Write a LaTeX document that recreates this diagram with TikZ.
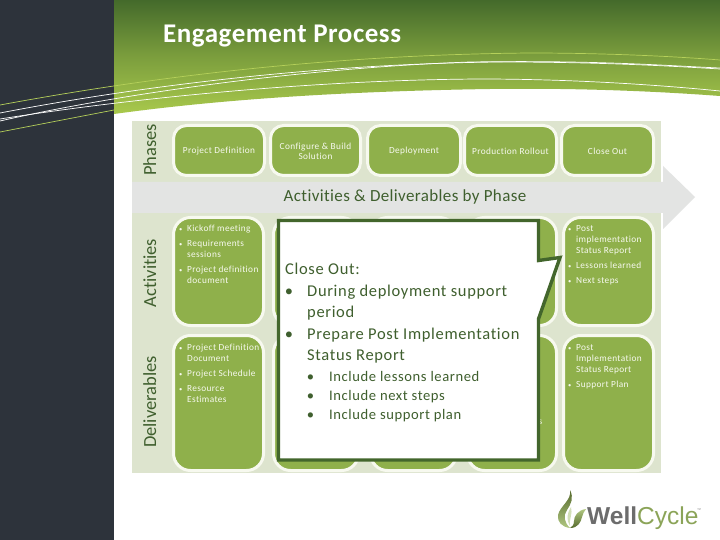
\documentclass[tikz,border=0pt]{standalone}
\usepackage{fontspec}
\setmainfont[Ligatures=NoCommon]{Carlito}
\newfontfamily\logofont{Liberation Sans}
\newcommand{\lsp}[1]{\addfontfeatures{LetterSpace=#1}}
\newcommand{\sbul}{\llap{{\fontsize{6.5}{6.5}\selectfont •}\ \ }}
\usetikzlibrary{calc}
\definecolor{darkpanel}{HTML}{2D333B}
\definecolor{headtop}{HTML}{446A2B}
\definecolor{headbot}{HTML}{A9C94C}
\definecolor{panelbg}{HTML}{DDE4CE}
\definecolor{bandgrey}{HTML}{E3E4E3}
\definecolor{boxgreen}{HTML}{8FB04B}
\definecolor{boxedge}{HTML}{F7F9EF}
\definecolor{txtgreen}{HTML}{3F5F2E}
\definecolor{calledge}{HTML}{43662C}
\definecolor{lineyl}{HTML}{B5D05A}
\tikzset{
  x=1pt,y=-1pt,
  gbox/.style={draw=boxedge,line width=3pt,fill=boxgreen,inner sep=0pt,rounded corners=13pt},
  phasetxt/.style={text=boxedge,font=\fontsize{9.3}{10.6}\selectfont\lsp{4},align=center,inner sep=0pt},
  smalltxt/.style={text=boxedge,font=\fontsize{9.3}{11}\selectfont\lsp{4},align=left,inner sep=0pt,anchor=base west},
  sidetxt/.style={text=txtgreen,font=\fontsize{18.5}{20}\selectfont,rotate=90,inner sep=0pt,anchor=base},
  calltxt/.style={text=txtgreen,font=\fontsize{16.5}{21.6}\selectfont\lsp{4},align=left,inner sep=0pt,anchor=base west},
  subtxt/.style={text=txtgreen,font=\fontsize{14.6}{19}\selectfont\lsp{4},align=left,inner sep=0pt,anchor=base west},
  deco/.style={line width=0.7pt},
}
\newcommand{\gboxat}[6]{\node[gbox,minimum width=#3-#2-3,minimum height=#5-#4-3,#6] (#1) at ({(#2+#3)/2},{(#4+#5)/2}) {};}
\begin{document}
\begin{tikzpicture}
\useasboundingbox (0,0) rectangle (720,540);
\fill[white] (0,0) rectangle (720,540);
% header
\shade[top color=headtop,bottom color=headbot,middle color=headtop!45!headbot] (114,0) -- (720,0) -- (720,96)
  .. controls (640,90) and (560,88) .. (490,89)
  .. controls (360,91) and (230,98) .. (114,114) -- cycle;
\fill[darkpanel] (0,0) rectangle (114,540);
% swoosh lines
\draw[deco,lineyl] (0,105) .. controls (114,84) and (300,55) .. (530,53) .. controls (600,53) and (670,56) .. (720,60);
\draw[deco,white] (0,113) .. controls (114,91) and (300,64) .. (500,62) .. controls (600,62) and (670,66) .. (720,69);
\draw[deco,white] (0,121) .. controls (114,95) and (300,68) .. (470,62) .. controls (600,60) and (670,66) .. (720,68);
\draw[deco,white] (0,119) .. controls (114,101) and (300,80) .. (480,79) .. controls (580,79) and (670,86) .. (720,91);
\draw[deco,lineyl] (0,132) -- (114,110);
% panel and band
\fill[panelbg] (132,121) rectangle (661,473);
\fill[bandgrey] (132,182) -- (663,182) -- (663,166) -- (695,197) -- (663,229) -- (663,213) -- (132,213) -- cycle;
% title
\node[text=white,font=\fontsize{27}{28}\selectfont\bfseries\lsp{2},anchor=base west,inner sep=0pt] (title) at (163,43) {Engagement Process};
% side labels
\node[sidetxt] (sphases) at (156,150) {Phases};
\node[sidetxt] (sact) at (156,273) {Activities};
\node[sidetxt] (sdel) at (156,402) {Deliverables};
\node[text=txtgreen,font=\fontsize{17}{19}\selectfont\lsp{2.2},inner sep=0pt] (bandlabel) at (405,197) {Activities \& Deliverables by Phase};
% phase boxes
\gboxat{p1}{172}{266}{124}{177}{}
\gboxat{p2}{269}{362}{124}{177}{}
\gboxat{p3}{366}{462}{124}{177}{}
\gboxat{p4}{463}{558}{124}{177}{}
\gboxat{p5}{560}{655}{124}{177}{}
\node[phasetxt,yshift=-1pt] (tp1) at (p1) {Project Definition};
\node[phasetxt,yshift=-1pt] (tp2) at (p2) {Configure \& Build\\Solution};
\node[phasetxt,yshift=-1pt] (tp3) at (p3) {Deployment};
\node[phasetxt,yshift=-1pt] (tp4) at (p4) {Production Rollout};
\node[phasetxt,yshift=-1pt] (tp5) at (p5) {Close Out};
% activity boxes
\gboxat{a1}{172}{265}{216}{327}{rounded corners=17pt}
\gboxat{a2}{272}{360}{216}{327}{rounded corners=17pt}
\gboxat{a3}{369}{458}{216}{327}{rounded corners=17pt}
\gboxat{a4}{466}{558}{216}{327}{rounded corners=17pt}
\gboxat{a5}{562}{655}{216}{327}{rounded corners=17pt}
% deliverable boxes
\gboxat{d1}{172}{265}{334}{472}{rounded corners=17pt}
\gboxat{d2}{272}{360}{334}{472}{rounded corners=17pt}
\gboxat{d3}{369}{458}{334}{472}{rounded corners=17pt}
\gboxat{d4}{466}{558}{334}{472}{rounded corners=17pt}
\gboxat{d5}{562}{655}{334}{472}{rounded corners=17pt}
% box texts (the anchor is the baseline of the last line)
\node[smalltxt] (a1a) at (187,232) {\sbul Kickoff meeting};
\node[smalltxt] (a1b) at (187,258) {\sbul Requirements\\sessions};
\node[smalltxt] (a1c) at (187,283) {\sbul Project definition\\document};
\node[smalltxt] (d1a) at (187,361) {\sbul Project Definition\\Document};
\node[smalltxt] (d1b) at (187,376) {\sbul Project Schedule};
\node[smalltxt] (d1c) at (187,402) {\sbul Resource\\Estimates};
\node[smalltxt] (a5a) at (576,253) {\sbul Post\\implementation\\Status Report};
\node[smalltxt] (a5b) at (576,268) {\sbul Lessons learned};
\node[smalltxt] (a5c) at (576,283) {\sbul Next steps};
\node[smalltxt] (d5a) at (576,372) {\sbul Post\\Implementation\\Status Report};
\node[smalltxt] (d5b) at (576,387) {\sbul Support Plan};
\node[smalltxt,anchor=base] (resid) at (540.5,424) {s};
% callout
\draw[calledge,line width=3.4pt,fill=white,miter limit=10] (278.5,220.5) -- (538.5,220.5) -- (538.5,260.5) -- (560,257.5) -- (538.5,319) -- (538.5,460) -- (278.5,460) -- cycle;
\node[calltxt] (c0) at (285,274.5) {Close Out:};
\node[calltxt] (c1) at (307,317.6) {\llap{•\hspace{14pt}}During deployment support\\period};
\node[calltxt] (c2) at (307,360.6) {\llap{•\hspace{14pt}}Prepare Post Implementation\\Status Report};
\node[subtxt] (s1) at (329,381) {\llap{•\hspace{15pt}}Include lessons learned};
\node[subtxt] (s2) at (329,400) {\llap{•\hspace{15pt}}Include next steps};
\node[subtxt] (s3) at (329,419) {\llap{•\hspace{15pt}}Include support plan};
% logo
\shade[top color=boxgreen!60!black,bottom color=boxgreen!70!white] (570,490) .. controls (572,500) and (560,506) .. (558,515) .. controls (557,522) and (562,527) .. (570,528) .. controls (564,522) and (563,516) .. (567,510) .. controls (571,504) and (574,498) .. (570,490) -- cycle;
\shade[top color=boxgreen!70!white,bottom color=boxgreen!60!black] (586,509) .. controls (578,510) and (574,516) .. (574,521) .. controls (574,525) and (572,527) .. (570,528) .. controls (578,528) and (581,522) .. (582,517) .. controls (583,514) and (584,511) .. (586,509) -- cycle;
\fill[boxgreen!40!white] (571,507) .. controls (573,514) and (569,518) .. (570,526) .. controls (566,520) and (567,513) .. (571,507) -- cycle;
\node[text=gray!85!black,font=\logofont\fontsize{24.5}{26}\selectfont\bfseries,anchor=base west,inner sep=0pt] (logoa) at (587,524) {Well};
\node[text=boxgreen!75!gray,font=\logofont\fontsize{24.5}{26}\selectfont,anchor=base west,inner sep=0pt] (logob) at (637,524) {Cycle};
\node[text=gray,font=\logofont\fontsize{4}{4}\selectfont,anchor=base west,inner sep=0pt] (logoc) at (697,511) {™};
\end{tikzpicture}
\end{document}
